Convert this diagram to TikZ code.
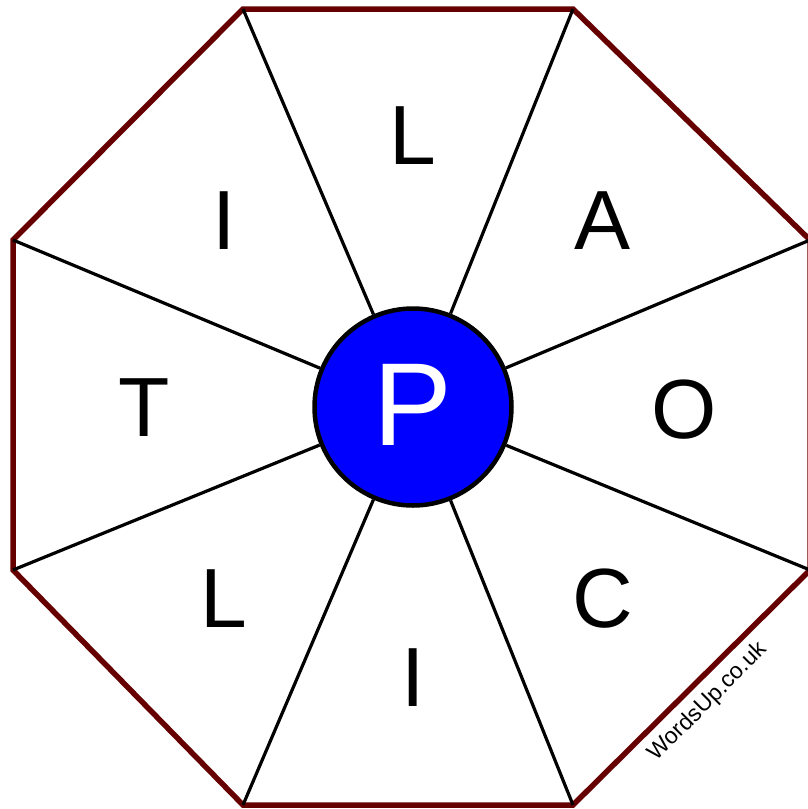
\documentclass[tikz,border=0pt]{standalone}
\usepackage{fontspec}
\setmainfont{Liberation Sans}
\usetikzlibrary{calc}
\definecolor{rimred}{RGB}{102,0,0}
\definecolor{hubblue}{RGB}{0,0,255}

\begin{document}
\begin{tikzpicture}[x=1pt,y=-1pt,
  rim/.style={draw=rimred,line width=5.5pt,line join=miter},
  spoke/.style={draw=black,line width=3.2pt},
  hub/.style={circle,draw=black,line width=4.5pt,fill=hubblue,minimum size=197pt,inner sep=0pt,text=white,font=\fontsize{118}{118}\selectfont},
  letter/.style={inner sep=0pt,font=\fontsize{84}{84}\selectfont},
  sitemark/.style={rotate=45,inner sep=0pt,font=\fontsize{23}{23}\selectfont}]
\useasboundingbox (0,0) rectangle (808,809);
% corners of the octagon
\coordinate (v1) at (243,9);
\coordinate (v2) at (573,9);
\coordinate (v3) at (810,240);
\coordinate (v4) at (810,570);
\coordinate (v5) at (573,805);
\coordinate (v6) at (243,805);
\coordinate (v7) at (13,570);
\coordinate (v8) at (13,240);
\draw[rim] (v1) -- (v2) -- (v3) -- (v4) -- (v5) -- (v6) -- (v7) -- (v8) -- cycle;
\node[hub] (hub) at (413,407) {\raisebox{5pt}{P}};
\foreach \v in {v1,v2,v3,v4,v5,v6,v7,v8} \draw[spoke] (\v) -- (hub);
% letters round the wheel
\node[letter] (top) at (413,136) {L};
\node[letter] (ne) at (603,221) {A};
\node[letter] (east) at (684,410) {O};
\node[letter] (se) at (603,599) {C};
\node[letter] (bot) at (413,678) {I};
\node[letter] (sw) at (224,599) {L};
\node[letter] (west) at (144,408) {T};
\node[letter] (nw) at (224,221) {I};
\node[sitemark] (site) at (708,702) {WordsUp.co.uk};
\end{tikzpicture}
\end{document}
